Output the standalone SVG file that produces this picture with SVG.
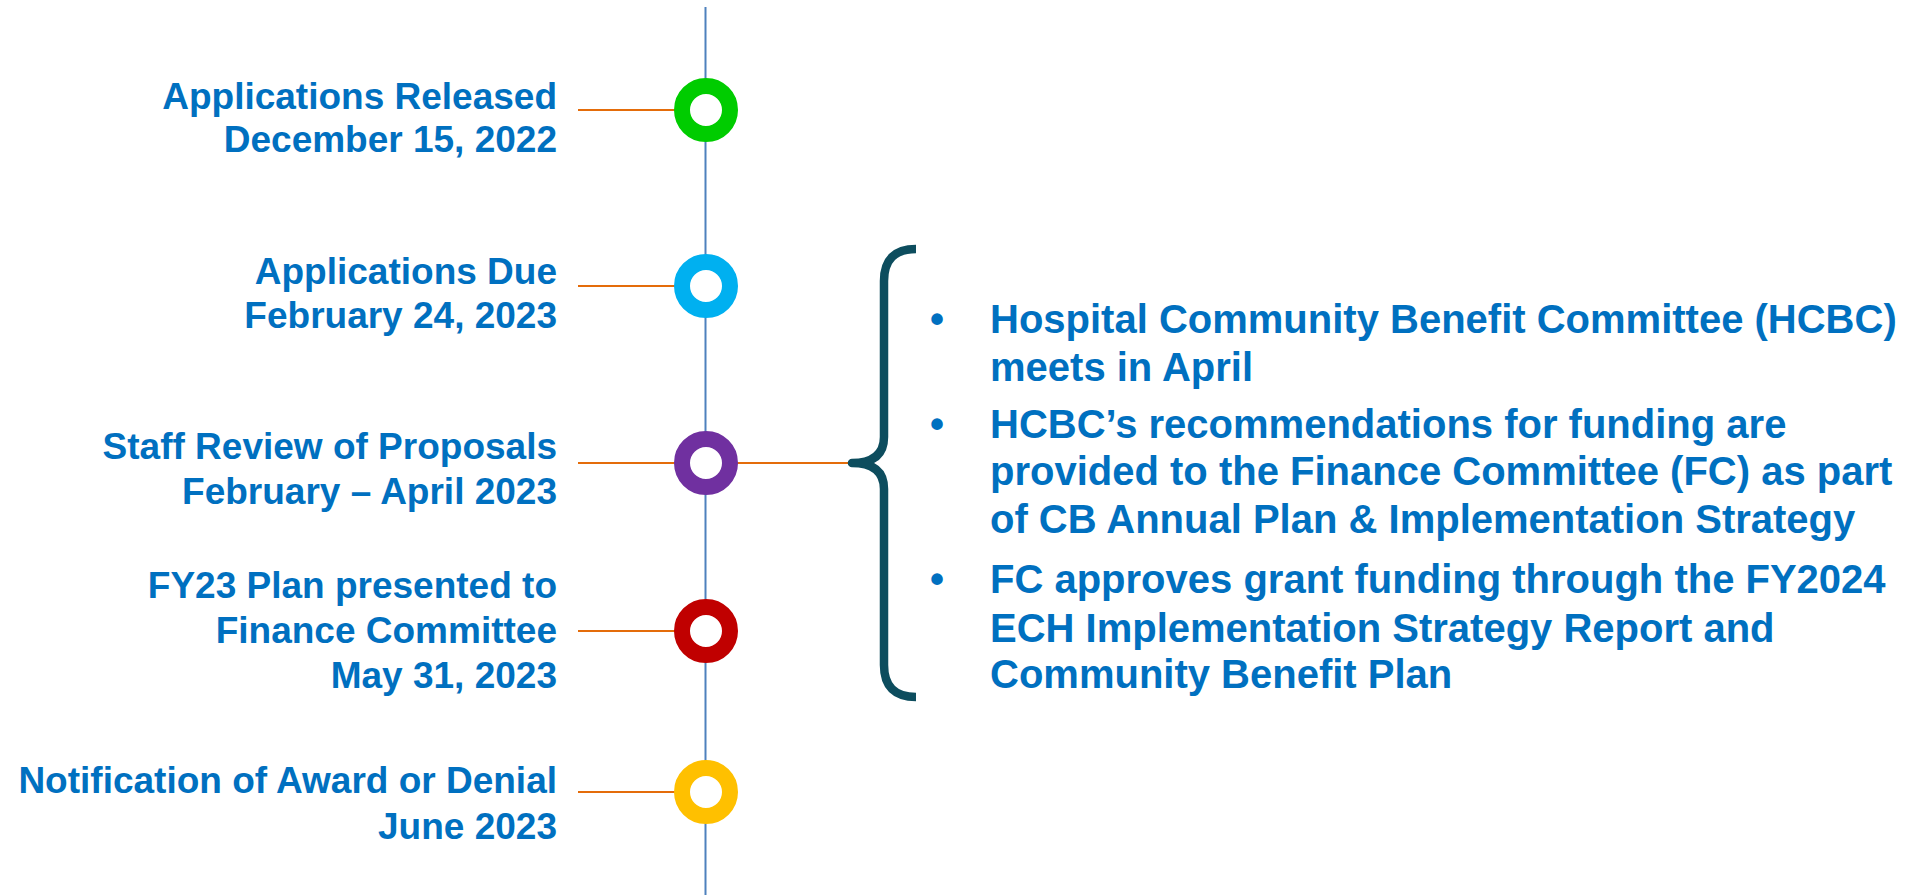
<svg xmlns="http://www.w3.org/2000/svg" width="1911" height="895" viewBox="0 0 1911 895">
<style>
.lbl{font-family:"Liberation Sans",Arial,sans-serif;font-weight:bold;font-size:37px;fill:#0070c0;text-anchor:end}
.bul{font-family:"Liberation Sans",Arial,sans-serif;font-weight:bold;font-size:40px;fill:#0070c0}
.tick{stroke:#e46c0a;stroke-width:2;fill:none}
.ring{fill:#ffffff;stroke-width:16}
</style>
<rect width="1911" height="895" fill="#ffffff"/>
<g id="connectors">
<line x1="705.5" y1="7" x2="705.5" y2="895" stroke="#4f81bd" stroke-width="2"/>
<line class="tick" x1="578" y1="110" x2="706" y2="110"/>
<line class="tick" x1="578" y1="286" x2="706" y2="286"/>
<line class="tick" x1="578" y1="463" x2="852" y2="463"/>
<line class="tick" x1="578" y1="631" x2="706" y2="631"/>
<line class="tick" x1="578" y1="792" x2="706" y2="792"/>
</g>
<g id="node-released">
<circle class="ring" cx="706" cy="110" r="24" stroke="#00cc00"/>
<text class="lbl" x="557" y="109">Applications Released</text>
<text class="lbl" x="557" y="152">December 15, 2022</text>
</g>
<g id="node-due">
<circle class="ring" cx="706" cy="286" r="24" stroke="#00b0f0"/>
<text class="lbl" x="557" y="284">Applications Due</text>
<text class="lbl" x="557" y="328">February 24, 2023</text>
</g>
<g id="node-review">
<circle class="ring" cx="706" cy="463" r="24" stroke="#7030a0"/>
<text class="lbl" x="557" y="459">Staff Review of Proposals</text>
<text class="lbl" x="557" y="504">February – April 2023</text>
</g>
<g id="node-fy23">
<circle class="ring" cx="706" cy="631" r="24" stroke="#c00000"/>
<text class="lbl" x="557" y="598">FY23 Plan presented to</text>
<text class="lbl" x="557" y="643">Finance Committee</text>
<text class="lbl" x="557" y="688">May 31, 2023</text>
</g>
<g id="node-notification">
<circle class="ring" cx="706" cy="792" r="24" stroke="#ffc000"/>
<text class="lbl" x="557" y="793">Notification of Award or Denial</text>
<text class="lbl" x="557" y="839">June 2023</text>
</g>
<g id="brace">
<path d="M916,249 Q884,249 884,281 L884,437 Q884,463 852,463 Q884,463 884,489 L884,665 Q884,697 916,697" fill="none" stroke="#0d4d5e" stroke-width="8.5" stroke-linejoin="round"/>
</g>
<g id="details">
<text class="bul" x="937" y="333" text-anchor="middle">•</text>
<text class="bul" x="990" y="333">Hospital Community Benefit Committee (HCBC)</text>
<text class="bul" x="990" y="381">meets in April</text>
<text class="bul" x="937" y="438" text-anchor="middle">•</text>
<text class="bul" x="990" y="438">HCBC’s recommendations for funding are</text>
<text class="bul" x="990" y="485">provided to the Finance Committee (FC) as part</text>
<text class="bul" x="990" y="533">of CB Annual Plan &amp; Implementation Strategy</text>
<text class="bul" x="937" y="593" text-anchor="middle">•</text>
<text class="bul" x="990" y="593">FC approves grant funding through the FY2024</text>
<text class="bul" x="990" y="642">ECH Implementation Strategy Report and</text>
<text class="bul" x="990" y="688">Community Benefit Plan</text>
</g>
</svg>
